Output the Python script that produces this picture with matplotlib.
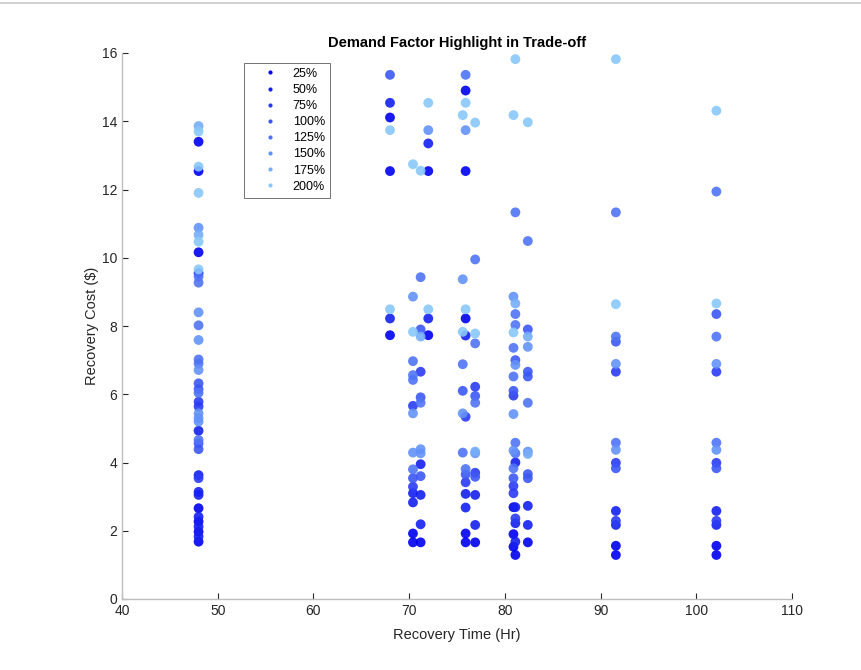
import matplotlib
matplotlib.use("Agg")
import matplotlib.pyplot as plt
from matplotlib.lines import Line2D

plt.rcParams['font.family'] = ['Liberation Sans', 'DejaVu Sans']

labels = ["25%", "50%", "75%", "100%", "125%", "150%", "175%", "200%"]
colors = ["#0000f0", "#1420f0", "#2a3cf2", "#3c58f4", "#4f74f6", "#6392f8", "#76aef9", "#88c8fa"]

x25 = [48, 48, 48, 48, 48, 48, 48, 68, 68, 68, 72, 72, 70.4, 70.4, 71.2,
       75.9, 75.9, 75.9, 75.9, 75.9, 76.9, 80.9, 80.9, 80.9, 81.1, 82.4, 91.6, 91.6, 102.1, 102.1]
y25 = [13.4, 12.54, 10.16, 2.66, 2.27, 1.97, 1.68, 14.11, 12.54, 7.73, 12.54, 7.73, 1.92, 1.66, 1.66,
       14.9, 12.54, 8.22, 1.92, 1.66, 1.66, 2.69, 1.9, 1.53, 1.29, 1.66, 1.56, 1.29, 1.56, 1.29]

x50 = [48, 48, 48, 48, 48, 48, 48, 48, 68, 68, 72, 72, 70.4, 70.4, 71.2, 71.2, 71.2,
       75.9, 75.9, 75.9, 76.9, 76.9, 81.1, 81.1, 81.1, 81.1, 82.4, 82.4, 91.6, 91.6, 102.1, 102.1]
y50 = [9.55, 4.93, 3.63, 3.14, 3.05, 2.41, 2.12, 1.83, 14.54, 8.22, 13.35, 8.22, 3.1, 2.83, 3.95, 3.05, 2.19,
       7.72, 3.08, 2.68, 3.05, 2.17, 4.0, 2.69, 2.22, 1.68, 2.73, 2.17, 2.58, 2.17, 2.58, 2.17]

x75 = [48, 48, 48, 70.4, 70.4, 71.2, 75.9, 75.9, 76.9, 76.9, 80.9, 80.9, 80.9, 81.1,
       91.6, 91.6, 91.6, 102.1, 102.1, 102.1]
y75 = [5.78, 5.64, 3.54, 5.66, 3.29, 6.66, 5.34, 3.42, 6.22, 3.7, 5.96, 3.31, 3.1, 2.36,
       6.66, 3.99, 2.29, 6.66, 3.99, 2.29]

x100 = [48, 48, 48, 48, 68, 70.4, 71.2, 71.2, 71.2, 75.6, 75.9, 76.9, 76.9, 81.1, 80.9, 80.9,
        82.4, 82.4, 82.4, 82.4, 82.4, 91.6, 91.6, 102.1, 102.1]
y100 = [6.32, 6.15, 4.56, 4.39, 15.36, 3.54, 7.9, 5.91, 3.6, 6.1, 3.65, 5.95, 3.58, 7.0, 6.1, 3.54,
        7.9, 6.66, 6.52, 3.66, 3.54, 7.54, 3.83, 8.35, 3.83]

x125 = [48, 48, 48, 48, 48, 48, 48, 70.4, 70.4, 70.4, 70.4, 71.2, 71.2,
        75.9, 75.6, 75.6, 75.9, 76.9, 76.9, 76.9,
        81.1, 81.1, 81.1, 80.9, 80.9, 81.1, 81.1, 80.9, 82.4, 82.4,
        91.6, 91.6, 91.6, 102.1, 102.1, 102.1]
y125 = [9.45, 9.27, 8.02, 7.02, 6.9, 6.04, 4.66, 6.97, 6.56, 6.42, 3.8, 9.43, 5.75,
        15.36, 6.88, 4.29, 3.81, 9.95, 7.49, 5.75,
        11.33, 8.35, 8.03, 7.36, 6.52, 4.58, 4.27, 3.83, 10.49, 5.75,
        11.33, 7.69, 4.58, 11.94, 7.69, 4.58]

x150 = [48, 48, 48, 48, 48, 48, 48, 72, 70.4, 70.4, 70.4, 71.2, 71.2, 75.9, 75.6, 75.6, 76.9,
        80.9, 81.1, 80.9, 80.9, 82.4, 82.4, 91.6, 91.6, 102.1, 102.1]
y150 = [10.88, 8.4, 7.59, 6.71, 5.44, 5.3, 5.2, 13.74, 8.86, 5.44, 4.29, 4.39, 4.27, 13.74, 9.37, 5.44, 4.27,
        8.86, 6.86, 5.42, 4.35, 7.39, 4.32, 6.89, 4.37, 6.89, 4.37]

x175 = [48, 48, 71.2, 76.9, 81.1, 82.4, 82.4]
y175 = [13.86, 10.67, 7.69, 4.32, 8.66, 7.69, 4.25]

x200 = [48, 48, 48, 48, 48, 68, 68, 72, 72, 70.4, 70.4, 71.2,
        75.9, 75.6, 75.9, 75.6, 76.9, 76.9, 81.1, 80.9, 80.9, 82.4,
        91.6, 91.6, 102.1, 102.1]
y200 = [13.7, 12.67, 11.9, 10.47, 9.66, 13.74, 8.49, 14.54, 8.49, 12.74, 7.83, 12.55,
        14.54, 14.18, 8.49, 7.83, 13.96, 7.78, 15.82, 14.18, 7.81, 13.97,
        15.82, 8.64, 14.31, 8.66]

xs = [x25, x50, x75, x100, x125, x150, x175, x200]
ys = [y25, y50, y75, y100, y125, y150, y175, y200]

xticks = [40, 50, 60, 70, 80, 90, 100, 110]
yticks = [0, 2, 4, 6, 8, 10, 12, 14, 16]

fig = plt.figure(figsize=(8.62, 6.70), dpi=100)
ax = fig.add_axes([122 / 862, 71 / 670, 670 / 862, 546 / 670])

for xv, yv, c, lab in zip(xs, ys, colors, labels):
    ax.scatter(xv, yv, s=50, color=c, alpha=0.9, edgecolors='none', label=lab)

ax.set_xlim(40, 110)
ax.set_ylim(0, 16)
ax.set_xticks(xticks)
ax.set_yticks(yticks)
ax.tick_params(direction='in', length=4, width=0.8, colors='#262626', labelsize=10,
               color='#262626')
for side in ['top', 'right']:
    ax.spines[side].set_visible(False)
for side in ['left', 'bottom']:
    ax.spines[side].set_color('#bdbdbd')
    ax.spines[side].set_linewidth(1.0)

ax.set_xlabel('Recovery Time (Hr)', fontsize=10.5, color='#262626', labelpad=7)
ax.set_ylabel('Recovery Cost ($)', fontsize=10.5, color='#262626', labelpad=2)
ax.set_title('Demand Factor Highlight in Trade-off', fontsize=10.5, fontweight='bold', pad=4)

handles = [Line2D([], [], marker='o', linestyle='none', markersize=3, color=c,
                  markeredgewidth=0) for c in colors]
leg = ax.legend(handles, labels, loc='upper left', bbox_to_anchor=(0.182, 0.982),
                fontsize=9, frameon=True, fancybox=False, handletextpad=0.2,
                borderpad=0.4, labelspacing=0.33, handlelength=3.3, borderaxespad=0)
leg.get_frame().set_edgecolor('#333333')
leg.get_frame().set_linewidth(0.6)

fig.add_artist(Line2D([0, 1], [1 - 3 / 670, 1 - 3 / 670], color='#c8c8c8', linewidth=1.2,
                      transform=fig.transFigure))

fig.savefig('out.png', dpi=100)
